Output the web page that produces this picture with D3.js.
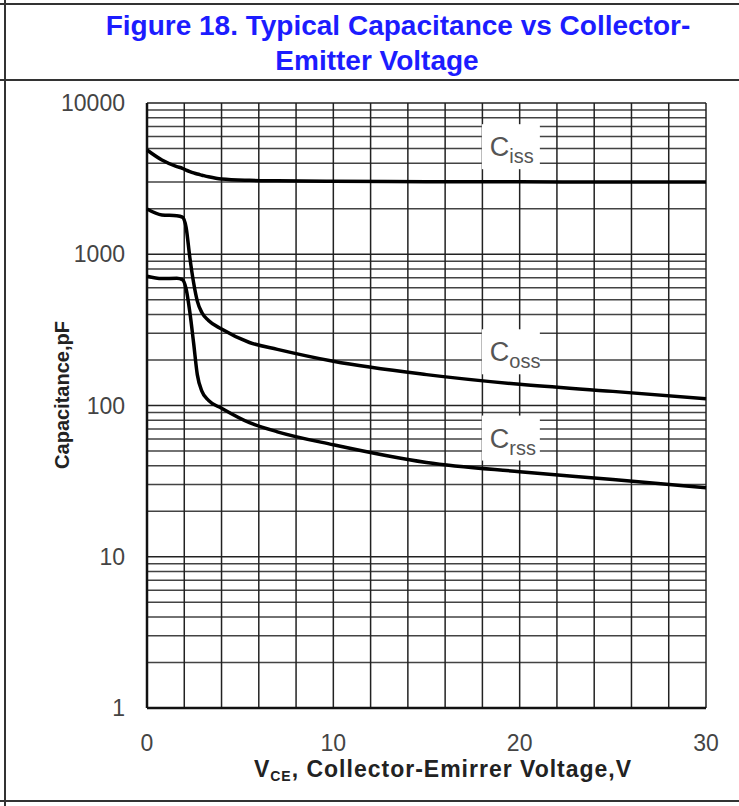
<!DOCTYPE html>
<html>
<head>
<meta charset="utf-8">
<script src="https://cdn.jsdelivr.net/npm/d3@7"></script>
<style>
  body { margin: 0; background: #fff; }
  svg { display: block; font-family: Arial, "Liberation Sans", sans-serif; }
</style>
</head>
<body>
<svg id="chart"></svg>
<script>
// data (V, pF)
const vce = [0, 0.8, 1.6, 1.9, 2.1, 2.3, 2.5, 2.7, 2.95, 3.3, 4, 5.5, 7, 10, 15, 20, 25, 30];
const ciss = [4890, 4200, 3800, 3700, 3600, 3520, 3450, 3390, 3330, 3250, 3140, 3080, 3060, 3040, 3020, 3010, 3000, 3000];
const coss = [1990, 1820, 1800, 1760, 1500, 950, 650, 490, 410, 365, 320, 261, 235, 196, 160, 138, 124, 111];
const crss = [715, 690, 695, 680, 590, 413, 260, 160, 124, 108, 96, 77, 67, 55, 42, 36.5, 32.4, 28.6];
const seriesNames = ["Ciss", "Coss", "Crss"];
const labelPos = [[18.4, 4450], [18.4, 196], [18.4, 52.7]];   // V, pF at the start of each label
const xTicks = [0, 10, 20, 30];
const yTicks = [1, 10, 100, 1000, 10000];

const w = 739, h = 806;
const margin = { top: 103, right: 33, bottom: 98, left: 147 };

const svg = d3.select("#chart").attr("width", w).attr("height", h);

// frame lines of the table cell
const frame = svg.append("g").attr("stroke", "#333").attr("stroke-width", 2);
frame.append("line").attr("x1", 0).attr("x2", w).attr("y1", 4).attr("y2", 4);
frame.append("line").attr("x1", 0).attr("x2", w).attr("y1", 80).attr("y2", 80);
frame.append("line").attr("x1", 0).attr("x2", w).attr("y1", 801).attr("y2", 801);
frame.append("line").attr("x1", 5).attr("x2", 5).attr("y1", 0).attr("y2", h);

// title
const title = svg.append("text")
    .attr("text-anchor", "middle")
    .attr("fill", "#1c1cff")
    .attr("font-weight", "bold")
    .attr("font-size", 28);
title.append("tspan").attr("x", 398).attr("y", 35).text("Figure 18. Typical Capacitance vs Collector-");
title.append("tspan").attr("x", 377).attr("y", 70).text("Emitter Voltage");

const xScale = d3.scaleLinear()
    .domain([0, 30])
    .range([margin.left, w - margin.right]);

const yScale = d3.scaleLog()
    .domain([1, 10000])
    .range([h - margin.bottom, margin.top]);

// grid
const grid = svg.append("g").attr("stroke", "#222").attr("stroke-width", 1.5);
const minor = [];
for (let d = 1; d < 10000; d *= 10) {
    for (let k = 2; k <= 9; k++) minor.push(d * k);
}
grid.selectAll(".hy")
    .data(minor.concat(yTicks))
    .join("line")
    .attr("x1", xScale(0)).attr("x2", xScale(30))
    .attr("y1", d => yScale(d)).attr("y2", d => yScale(d))
    .attr("stroke-opacity", d => yTicks.includes(d) ? 1 : 0.85);
grid.selectAll(".vx")
    .data(d3.range(0, 31, 2))
    .join("line")
    .attr("y1", yScale(1)).attr("y2", yScale(10000))
    .attr("x1", d => xScale(d)).attr("x2", d => xScale(d));

// axis borders a little heavier
svg.append("line").attr("stroke", "#111").attr("stroke-width", 2.5)
    .attr("x1", xScale(0)).attr("x2", xScale(0)).attr("y1", yScale(1)).attr("y2", yScale(10000));
svg.append("line").attr("stroke", "#111").attr("stroke-width", 2.5)
    .attr("x1", xScale(0)).attr("x2", xScale(30)).attr("y1", yScale(1)).attr("y2", yScale(1));

// label boxes hide the grid under them
const boxes = svg.append("g");
labelPos.forEach(p => {
    boxes.append("rect")
        .attr("x", xScale(p[0]) - 8)
        .attr("y", yScale(p[1]) - 32)
        .attr("width", 58)
        .attr("height", 45)
        .attr("fill", "#fff");
});

// curves
const line = d3.line()
    .x((d, i) => xScale(vce[i]))
    .y(d => yScale(d))
    .curve(d3.curveMonotoneX);

svg.append("g")
    .selectAll("path")
    .data([ciss, coss, crss])
    .join("path")
    .attr("d", line)
    .attr("fill", "none")
    .attr("stroke", "#000")
    .attr("stroke-width", 3.5)
    .attr("stroke-linejoin", "round");

// curve labels
labelPos.forEach((p, i) => {
    const t = svg.append("text")
        .attr("x", xScale(p[0]))
        .attr("y", yScale(p[1]))
        .attr("fill", "#555")
        .attr("font-size", 27);
    t.append("tspan").text(seriesNames[i][0]);
    t.append("tspan").attr("font-size", 20).attr("dy", 7).text(seriesNames[i].slice(1));
});

// tick labels
svg.append("g")
    .selectAll("text")
    .data(yTicks)
    .join("text")
    .attr("x", 125)
    .attr("y", d => yScale(d) + 8)
    .attr("text-anchor", "end")
    .attr("fill", "#444")
    .attr("font-size", 23)
    .text(d => d);

svg.append("g")
    .selectAll("text")
    .data(xTicks)
    .join("text")
    .attr("x", d => xScale(d))
    .attr("y", 751)
    .attr("text-anchor", "middle")
    .attr("fill", "#444")
    .attr("font-size", 23)
    .text(d => d);

// axis titles
const xt = svg.append("text")
    .attr("x", 443)
    .attr("y", 777)
    .attr("text-anchor", "middle")
    .attr("fill", "#222")
    .attr("font-weight", "bold")
    .attr("font-size", 23)
    .attr("letter-spacing", 1);
xt.append("tspan").text("V");
xt.append("tspan").attr("font-size", 14).attr("dy", 4).text("CE");
xt.append("tspan").attr("dy", -4).text(", Collector-Emirrer Voltage,V");

svg.append("text")
    .attr("transform", `translate(69,395) rotate(-90)`)
    .attr("text-anchor", "middle")
    .attr("fill", "#222")
    .attr("font-weight", "bold")
    .attr("font-size", 20)
    .text("Capacitance,pF");
</script>
</body>
</html>
